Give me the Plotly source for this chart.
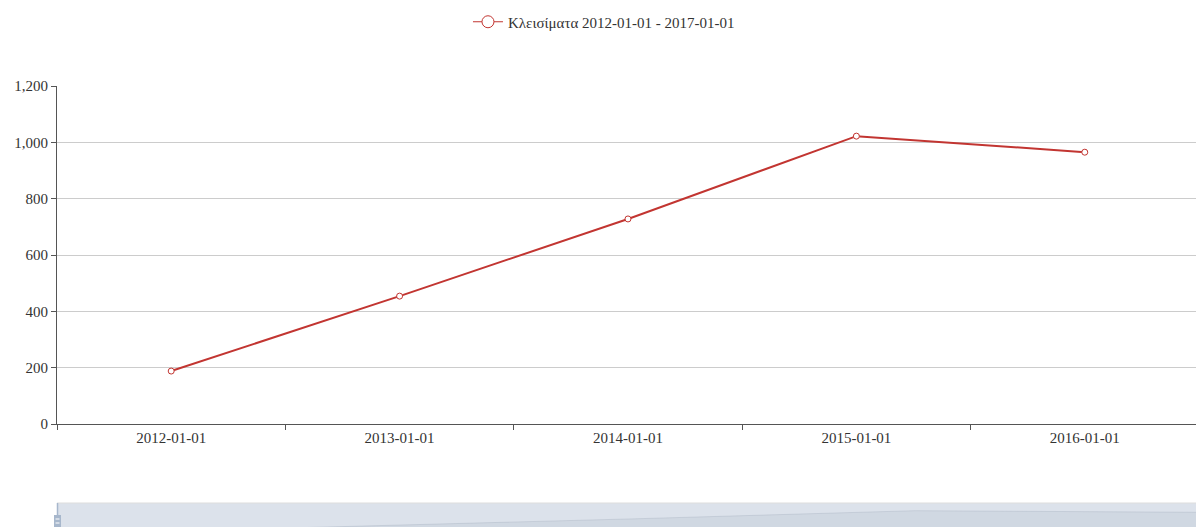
import plotly.graph_objects as go

categories = ["2012-01-01", "2013-01-01", "2014-01-01", "2015-01-01", "2016-01-01"]
closes = [188, 454, 728, 1022, 965]
series_name = "Κλεισίματα 2012-01-01 - 2017-01-01"
y_ticks = [0, 200, 400, 600, 800, 1000, 1200]

W, H = 1196, 527
FONT = "Liberation Serif"
FS = 15
RED = "#c23531"

def px_x(p):
    return p / W

def px_y(p):
    return 1 - p / H

fig = go.Figure()

fig.add_trace(go.Scatter(
    x=categories, y=closes, name=series_name,
    mode="lines+markers",
    line=dict(color=RED, width=2),
    marker=dict(symbol="circle", size=6, color="white", line=dict(color=RED, width=1)),
    xaxis="x", yaxis="y", showlegend=False,
))

# legend entry (larger icon, like the original)
fig.add_trace(go.Scatter(
    x=[None], y=[None], name=series_name,
    mode="lines+markers",
    line=dict(color=RED, width=1),
    marker=dict(symbol="circle", size=12, color="white", line=dict(color=RED, width=1)),
    xaxis="x", yaxis="y", showlegend=True,
))

# data shadow in the zoom slider
fig.add_trace(go.Scatter(
    x=list(range(len(closes))), y=closes,
    mode="lines", fill="tozeroy",
    line=dict(color="rgba(47,69,84,0.3)", width=0.5),
    fillcolor="rgba(47,69,84,0.09)",
    xaxis="x2", yaxis="y2", showlegend=False, hoverinfo="skip",
))

shapes = [
    dict(type="rect", xref="paper", yref="paper", x0=px_x(57), x1=1.0, y0=0, y1=px_y(503),
         fillcolor="rgba(167,183,204,0.4)", line=dict(width=0), layer="above"),
    dict(type="line", xref="paper", yref="paper", x0=px_x(57), x1=1.0, y0=px_y(503), y1=px_y(503),
         line=dict(color="#ddd", width=1), layer="above"),
    dict(type="line", xref="paper", yref="paper", x0=px_x(57.5), x1=px_x(57.5), y0=0, y1=px_y(503),
         line=dict(color="#a7b7cc", width=1.5), layer="above"),
    dict(type="rect", xref="paper", yref="paper", x0=px_x(54), x1=px_x(61), y0=0, y1=px_y(515),
         fillcolor="#a7b7cc", line=dict(width=0), layer="above"),
    dict(type="line", xref="paper", yref="paper", x0=px_x(55.5), x1=px_x(59.5), y0=px_y(519), y1=px_y(519),
         line=dict(color="white", width=1), layer="above"),
    dict(type="line", xref="paper", yref="paper", x0=px_x(55.5), x1=px_x(59.5), y0=px_y(523), y1=px_y(523),
         line=dict(color="white", width=1), layer="above"),
]

fig.update_layout(
    width=W, height=H,
    margin=dict(l=0, r=0, t=0, b=0, autoexpand=False),
    paper_bgcolor="white", plot_bgcolor="white",
    font=dict(family=FONT, size=FS, color="#333"),
    showlegend=True,
    legend=dict(
        orientation="h", x=0.505, xanchor="center", y=px_y(22), yanchor="middle",
        font=dict(family=FONT, size=FS, color="#333"),
        bgcolor="rgba(0,0,0,0)", itemwidth=30,
    ),
    xaxis=dict(
        domain=[px_x(57), 1.0], type="category",
        range=[-0.5, 4.487],
        tickson="boundaries", ticks="outside", ticklen=5, tickcolor="#555",
        showline=True, linecolor="#555", linewidth=1,
        showgrid=False, zeroline=False,
        tickfont=dict(family=FONT, size=FS, color="#333"),
        anchor="y", fixedrange=True,
    ),
    yaxis=dict(
        domain=[px_y(424), px_y(86)],
        range=[0, 1200], tickvals=y_ticks, tickformat=",",
        ticks="outside", ticklen=5, tickcolor="#555",
        showline=True, linecolor="#555", linewidth=1,
        showgrid=True, gridcolor="#ccc", gridwidth=1,
        zeroline=False,
        tickfont=dict(family=FONT, size=FS, color="#333"),
        anchor="x", fixedrange=True,
    ),
    xaxis2=dict(
        domain=[px_x(57), 1.0], range=[0, 4 * (W - 57) / (1201 - 57)],
        visible=False, anchor="y2", fixedrange=True,
    ),
    yaxis2=dict(
        domain=[0, px_y(503)], range=[442, 1296],
        visible=False, anchor="x2", fixedrange=True,
    ),
    shapes=shapes,
)

fig.write_html(
    "out.html",
    config={"displayModeBar": False},
    post_script="document.body.style.margin='0';document.body.style.overflow='hidden';",
)
